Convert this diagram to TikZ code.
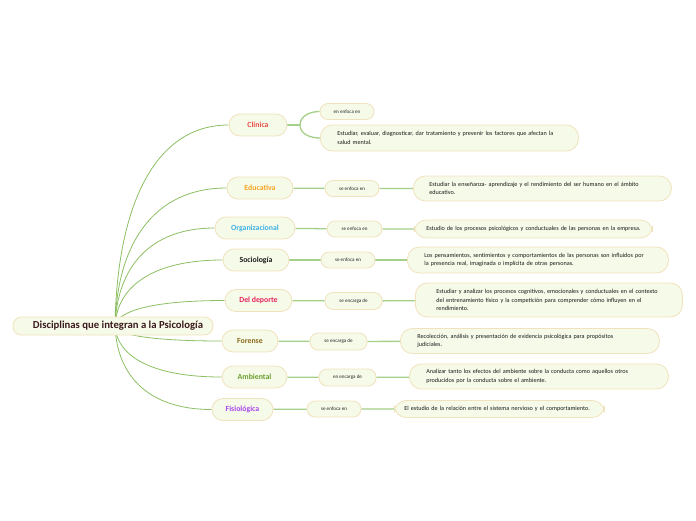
\documentclass[tikz,border=0pt]{standalone}
\usepackage{fontspec}
\setmainfont{Carlito}
\usetikzlibrary{calc,backgrounds}
\definecolor{boxfill}{HTML}{F6FAE8}
\definecolor{boxline}{HTML}{F0E2BC}
\definecolor{curvec}{HTML}{8CBF62}
\definecolor{linkc}{HTML}{A5D08A}
\definecolor{cClin}{HTML}{E8504A}
\definecolor{cEdu}{HTML}{F5A623}
\definecolor{cOrg}{HTML}{3DB2E6}
\definecolor{cSoc}{HTML}{1C1C1C}
\definecolor{cDep}{HTML}{E5245E}
\definecolor{cFor}{HTML}{8A6A1A}
\definecolor{cAmb}{HTML}{6A9E2E}
\definecolor{cFis}{HTML}{A944EE}
\definecolor{cRoot}{HTML}{3A1A1E}
\tikzset{
  pill/.style={draw=boxline, fill=boxfill, line width=0.8pt, inner sep=0pt},
  rootbox/.style={pill, rounded corners=8.5pt, minimum width=200pt, minimum height=18pt, font=\fontsize{10.7}{12}\selectfont\bfseries, text=cRoot},
  branchbox/.style={pill, rounded corners=11pt, minimum height=22pt, font=\fontsize{7.8}{9}\selectfont\bfseries},
  midbox/.style={pill, rounded corners=8pt, minimum height=16pt, font=\fontsize{5.1}{6}\selectfont, text=black!85},
  descbox/.style={pill, rounded corners=12pt, anchor=west, align=left, inner ysep=3pt, font=\fontsize{6.15}{8.6}\selectfont, text=black!90},
  rootcurve/.style={draw=curvec, line width=0.8pt},
  link/.style={draw=linkc, line width=1.3pt},
}
\newcommand{\rootlink}[1]{%
  \draw[rootcurve] let \p1=(rc), \p2=(#1.west) in (\p1) .. controls (\x1+2pt, {\y1+0.6*(\y2-\y1)}) and ({\x1+0.35*(\x2-\x1)}, \y2) .. (\p2);}
\begin{document}
\begin{tikzpicture}[x=1pt,y=-1pt]
\useasboundingbox (0,0) rectangle (696,520);
% root
\node[rootbox] (root) at (113,326) {\hspace{10pt}Disciplinas que integran a la Psicología};
\coordinate (rc) at (115,326);
% branches
\node[branchbox, minimum width=58pt, text=cClin] (cli) at (258,125) {Clínica};
\node[branchbox, minimum width=66pt, text=cEdu] (edu) at (260,188) {Educativa};
\node[branchbox, minimum width=80pt, text=cOrg] (org) at (255,228) {Organizacional};
\node[branchbox, minimum width=66pt, text=cSoc] (soc) at (256,260) {Sociología};
\node[branchbox, minimum width=67pt, text=cDep] (dep) at (258.5,300.5) {Del deporte};
\node[branchbox, minimum width=56pt, text=cFor] (for) at (250,341) {Forense};
\node[branchbox, minimum width=65pt, text=cAmb] (amb) at (254.5,377) {Ambiental};
\node[branchbox, minimum width=61pt, text=cFis] (fis) at (242.5,409.5) {Fisiológica};
% mid labels
\node[midbox, minimum width=54pt] (mcli) at (347,111.5) {en enfoca en};
\node[midbox, minimum width=54pt] (medu) at (352,188.5) {se enfoca en};
\node[midbox, minimum width=55pt] (morg) at (354.5,229) {se enfoca en};
\node[midbox, minimum width=54pt] (msoc) at (348,260) {se enfoca en};
\node[midbox, minimum width=57pt, minimum height=17pt] (mdep) at (353.5,301) {se encarga de};
\node[midbox, minimum width=57pt, minimum height=17pt] (mfor) at (338.5,341.5) {se encarga de};
\node[midbox, minimum width=57pt, minimum height=17pt] (mamb) at (347.5,377.5) {en encarga de};
\node[midbox, minimum width=54pt] (mfis) at (334,409) {se enfoca en};
% descriptions
\node[descbox, inner xsep=17pt, text width=224pt, minimum height=26pt] (dcli) at (320,138) {Estudiar, evaluar, diagnosticar, dar tratamiento y prevenir los factores que afectan la\\ salud mental.};
\node[descbox, inner xsep=16pt, text width=226pt, minimum height=25pt] (dedu) at (413,188.5) {Estudiar la enseñanza- aprendizaje y el rendimiento del ser humano en el ámbito\\ educativo.};
\node[descbox, inner xsep=12pt, text width=214pt, minimum height=18pt] (dorg) at (414,229) {\mbox{Estudio de los procesos psicológicos y conductuales de las personas en la empresa.}};
\node[descbox, inner xsep=17pt, text width=227pt, minimum height=26pt] (dsoc) at (407,260) {Los pensamientos, sentimientos y comportamientos de las personas son influidos por\\ la presencia real, imaginada o implícita de otras personas.};
\node[descbox, inner xsep=21pt, text width=225pt, minimum height=34pt] (ddep) at (415,300) {Estudiar y analizar los procesos cognitivos, emocionales y conductuales en el contexto\\ del entrenamiento físico y la competición para comprender cómo influyen en el\\ rendimiento.};
\node[descbox, inner xsep=17pt, text width=225pt, minimum height=25pt] (dfor) at (400,341) {Recolección, análisis y presentación de evidencia psicológica para propósitos\\ judiciales.};
\node[descbox, inner xsep=17pt, text width=225pt, minimum height=25pt] (damb) at (409,376.5) {Analizar tanto los efectos del ambiente sobre la conducta como aquellos otros\\ producidos por la conducta sobre el ambiente.};
\node[descbox, inner xsep=10pt, text width=190pt, minimum height=17pt] (dfis) at (394,409) {\mbox{El estudio de la relación entre el sistema nervioso y el comportamiento.}};
\begin{pgfonlayer}{background}
\rootlink{cli}
\rootlink{edu}
\rootlink{org}
\rootlink{soc}
\rootlink{dep}
\rootlink{for}
\rootlink{amb}
\rootlink{fis}
\coordinate (fk) at (300,125);
\draw[link] (cli.east) -- (fk);
\draw[link] (fk) to[out=90,in=180] (mcli.west);
\draw[link] (fk) to[out=-90,in=180] (dcli.west);
\draw[link] (edu) -- (medu) -- (dedu);
\draw[link] (org) -- (morg) -- (dorg);
\draw[link] (soc) -- (msoc) -- (dsoc);
\draw[link] (dep) -- (mdep) -- (ddep);
\draw[link] (for) -- (mfor) -- (dfor);
\draw[link] (amb) -- (mamb) -- (damb);
\draw[link] (fis) -- (mfis) -- (dfis);
\end{pgfonlayer}
\end{tikzpicture}
\end{document}
